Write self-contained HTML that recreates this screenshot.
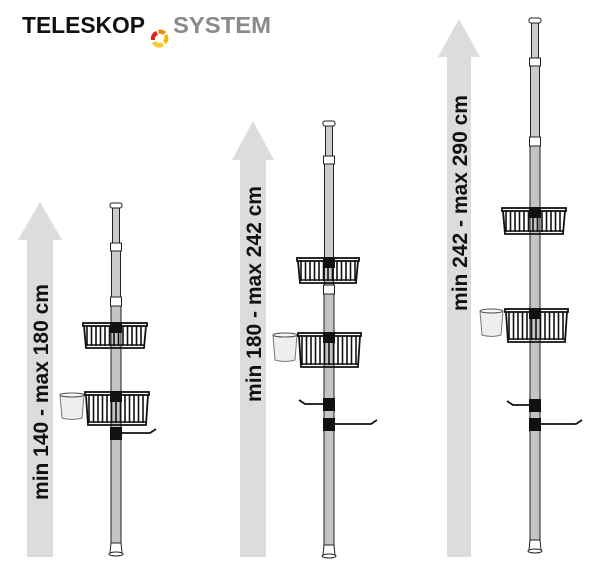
<!DOCTYPE html>
<html><head><meta charset="utf-8"><style>
html,body{margin:0;padding:0;background:#fff;width:600px;height:572px;overflow:hidden}
svg{display:block}
</style></head><body>
<svg id="s" width="600" height="572" viewBox="0 0 600 572" xmlns="http://www.w3.org/2000/svg">
<text x="22" y="33" textLength="123" lengthAdjust="spacingAndGlyphs" font-family="Liberation Sans, sans-serif" font-weight="bold" font-size="23" fill="#111">TELESKOP</text>
<g transform="translate(2,3)">
<path d="M149 37 A8 8 0 0 1 154 28 L156 32 A4 4 0 0 0 153 37 Z" fill="#e2231a"/>
<path d="M156 27 A8 8 0 0 1 164 29 L161 32 A4 4 0 0 0 157 31 Z" fill="#f08a00"/>
<path d="M165 31 A8 8 0 0 1 164 41 L161 38 A4 4 0 0 0 162 33 Z" fill="#f6b300"/>
<path d="M162 43 A8 8 0 0 1 150 40 L154 38 A4 4 0 0 0 160 39 Z" fill="#f7c932"/>
</g>
<text x="173" y="33" textLength="98" lengthAdjust="spacingAndGlyphs" font-family="Liberation Sans, sans-serif" font-weight="bold" font-size="23" fill="#8a8a8a">SYSTEM</text>
<g id="g"></g>
</svg>
<script>
var g=document.getElementById('g'),h='';
function arrow(cx,tip,hb,hw,sw,bot,txt,ty){
 h+='<polygon points="'+cx+','+tip+' '+(cx+hw)+','+hb+' '+(cx+sw)+','+hb+' '+(cx+sw)+','+bot+' '+(cx-sw)+','+bot+' '+(cx-sw)+','+hb+' '+(cx-hw)+','+hb+'" fill="#dcdcdc"/>';
 h+='<text transform="translate('+(cx+8)+','+ty+') rotate(-90)" text-anchor="middle" font-family="Liberation Sans, sans-serif" font-weight="bold" font-size="21" fill="#111">'+txt+'</text>';
}
function pole(cx,top,j1,j2,bot){
 h+='<rect x="'+(cx-6)+'" y="'+top+'" width="12" height="5" rx="2" fill="#fff" stroke="#222"/>';
 h+='<rect x="'+(cx-3.5)+'" y="'+(top+5)+'" width="7" height="'+(j1-top-5)+'" fill="#ccc" stroke="#222"/>';
 h+='<rect x="'+(cx-4.5)+'" y="'+j1+'" width="9" height="'+(j2-j1)+'" fill="#ccc" stroke="#222"/>';
 h+='<rect x="'+(cx-5)+'" y="'+j2+'" width="10" height="'+(bot-j2)+'" fill="#c4c4c4" stroke="#222"/>';
 h+='<rect x="'+(cx-5.5)+'" y="'+j1+'" width="11" height="8" fill="#fff" stroke="#222"/>';
 h+='<rect x="'+(cx-5.5)+'" y="'+j2+'" width="11" height="9" fill="#fff" stroke="#222"/>';
 h+='<path d="M'+(cx-5)+' '+bot+' L'+(cx+5)+' '+bot+' L'+(cx+6)+' '+(bot+10)+' L'+(cx-6)+' '+(bot+10)+' Z" fill="#fff" stroke="#222"/>';
 h+='<ellipse cx="'+cx+'" cy="'+(bot+11)+'" rx="7" ry="2" fill="#fff" stroke="#222"/>';
}
function basket(x1,x2,y1,y2,cx){
 h+='<rect x="'+x1+'" y="'+y1+'" width="'+(x2-x1)+'" height="3" fill="none" stroke="#111" stroke-width="1.8"/>';
 for(var x=x1+4;x<x2-2;x+=4.5)h+='<line x1="'+x+'" y1="'+(y1+3)+'" x2="'+x+'" y2="'+(y2-2)+'" stroke="#111" stroke-width="1.6"/>';
 h+='<path d="M'+(x1+1)+' '+(y1+3)+' L'+(x1+3)+' '+y2+' L'+(x2-3)+' '+y2+' L'+(x2-1)+' '+(y1+3)+'" fill="none" stroke="#111" stroke-width="1.8"/>';
 h+='<line x1="'+(x1+3)+'" y1="'+(y2-3)+'" x2="'+(x2-3)+'" y2="'+(y2-3)+'" stroke="#111" stroke-width="1.4"/>';
 h+='<rect x="'+(cx-6)+'" y="'+(y1-1)+'" width="12" height="11" fill="#111"/>';
}
function cup(x1,x2,y1,y2){
 h+='<path d="M'+x1+' '+(y1+2)+' L'+(x1+2)+' '+y2+' Q'+((x1+x2)/2)+' '+(y2+3)+' '+(x2-2)+' '+y2+' L'+x2+' '+(y1+2)+'" fill="#eee" stroke="#777"/>';
 h+='<ellipse cx="'+((x1+x2)/2)+'" cy="'+(y1+2)+'" rx="'+((x2-x1)/2)+'" ry="2" fill="#f8f8f8" stroke="#555"/>';
}
function hook(cx,y,dir,len){
 h+='<rect x="'+(cx-6)+'" y="'+y+'" width="12" height="13" fill="#111"/>';
 var e=cx+dir*(6+len);
 h+='<path d="M'+(cx+dir*6)+' '+(y+6)+' L'+(e-dir*6)+' '+(y+6)+' L'+e+' '+(y+2)+'" fill="none" stroke="#111" stroke-width="1.8"/>';
}
arrow(40,202,240,22,13,557,'min 140 - max 180 cm',392);
arrow(253,121,160,21,13,557,'min 180 - max 242 cm',294);
arrow(459,19,57,21,12,557,'min 242 - max 290 cm',203);
pole(116,203,243,297,543);
cup(60,84,393,418);
basket(83,147,323,348,116);
basket(85,149,392,425,116);
hook(116,427,1,34);
pole(329,121,156,285,545);
basket(297,359,258,283,329);
cup(273,297,333,360);
basket(298,361,333,367,329);
hook(329,398,-1,24);hook(329,418,1,42);
pole(535,18,58,137,540);
basket(502,566,208,234,535);
cup(480,503,309,335);
basket(505,568,309,342,535);
hook(535,399,-1,22);hook(535,418,1,41);
g.innerHTML=h;
</script>
</body></html>
